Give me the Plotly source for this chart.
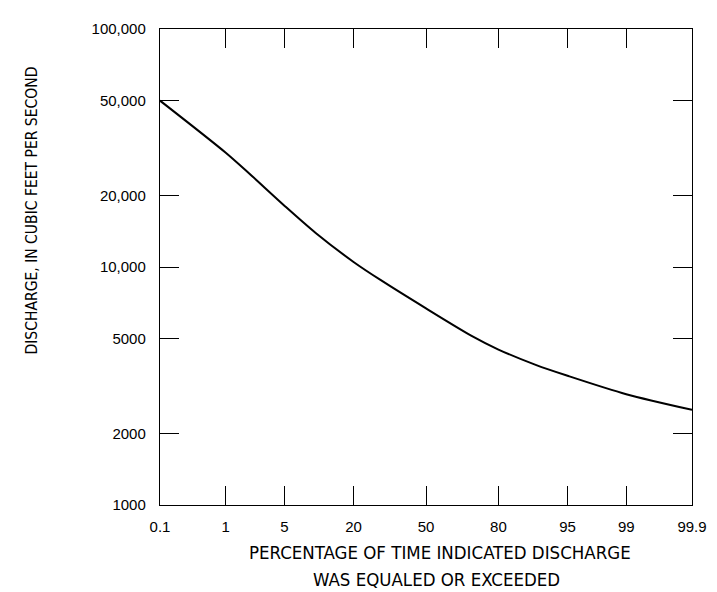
import plotly.graph_objects as go
from statistics import NormalDist

# ---- data ----
percent_exceeded = [0.1, 1, 2, 5, 10, 20, 30, 50, 70, 80, 90, 95, 99, 99.9]
discharge_cfs = [50000, 30200, 24700, 18100, 13900, 10500, 8800, 6700, 5150, 4500, 3870, 3490, 2920, 2510]

x_tick_percent = [0.1, 1, 5, 20, 50, 80, 95, 99, 99.9]
x_tick_text = ["0.1", "1", "5", "20", "50", "80", "95", "99", "99.9"]
y_tick_vals = [1000, 2000, 5000, 10000, 20000, 50000, 100000]
y_tick_text = ["1000", "2000", "5000", "10,000", "20,000", "50,000", "100,000"]

# normal-probability axis transform
nd = NormalDist()
def prob(p):
    return nd.inv_cdf(p / 100.0)

W, H = 717, 592
L, R, T, B = 152, 684, 17, 497  # plot area in pixels

fig = go.Figure()
fig.add_trace(go.Scatter(
    x=[prob(p) for p in percent_exceeded],
    y=discharge_cfs,
    mode="lines",
    line=dict(color="black", width=2, shape="spline", smoothing=0.8),
    hoverinfo="skip",
    showlegend=False,
))

tick_font = dict(family="Liberation Sans, Arial, sans-serif", size=15, color="black")
fig.update_xaxes(
    range=[prob(0.1), prob(99.9)],
    tickmode="array",
    tickvals=[prob(p) for p in x_tick_percent],
    ticktext=x_tick_text,
    ticks="inside", ticklen=19, tickwidth=1.2, tickcolor="black",
    showline=True, linecolor="black", linewidth=1.4, mirror="ticks",
    showgrid=False, zeroline=False,
    tickfont=tick_font, ticklabelstandoff=8,
)
fig.update_yaxes(
    type="log", range=[3, 5],
    tickmode="array", tickvals=y_tick_vals, ticktext=y_tick_text,
    ticks="inside", ticklen=19, tickwidth=1.2, tickcolor="black",
    showline=True, linecolor="black", linewidth=1.4, mirror="ticks",
    showgrid=False, zeroline=False,
    tickfont=tick_font, ticklabelstandoff=10,
)

narrow = "Liberation Sans Narrow, Arial Narrow, DejaVu Sans Condensed, sans-serif"
xtitle_font = dict(family=narrow, size=18.5, color="black")
ytitle_font = dict(family=narrow, size=15.5, color="black")
def px_x(px):
    return (px - L) / (R - L)
def px_y(py):
    return (B - py) / (B - T)

fig.add_annotation(text="PERCENTAGE OF TIME INDICATED DISCHARGE", x=px_x(432), y=px_y(545),
                   xref="paper", yref="paper", showarrow=False, font=xtitle_font,
                   xanchor="center", yanchor="middle")
fig.add_annotation(text="WAS EQUALED OR EXCEEDED", x=px_x(428), y=px_y(572),
                   xref="paper", yref="paper", showarrow=False, font=xtitle_font,
                   xanchor="center", yanchor="middle")
fig.add_annotation(text="DISCHARGE, IN CUBIC FEET PER SECOND", x=px_x(24), y=px_y(200),
                   xref="paper", yref="paper", showarrow=False, font=ytitle_font,
                   textangle=-90, xanchor="center", yanchor="middle")

fig.update_layout(
    width=W, height=H,
    margin=dict(l=L, r=W - R, t=T, b=H - B),
    plot_bgcolor="white", paper_bgcolor="white",
)

fig.write_html("out.html")
